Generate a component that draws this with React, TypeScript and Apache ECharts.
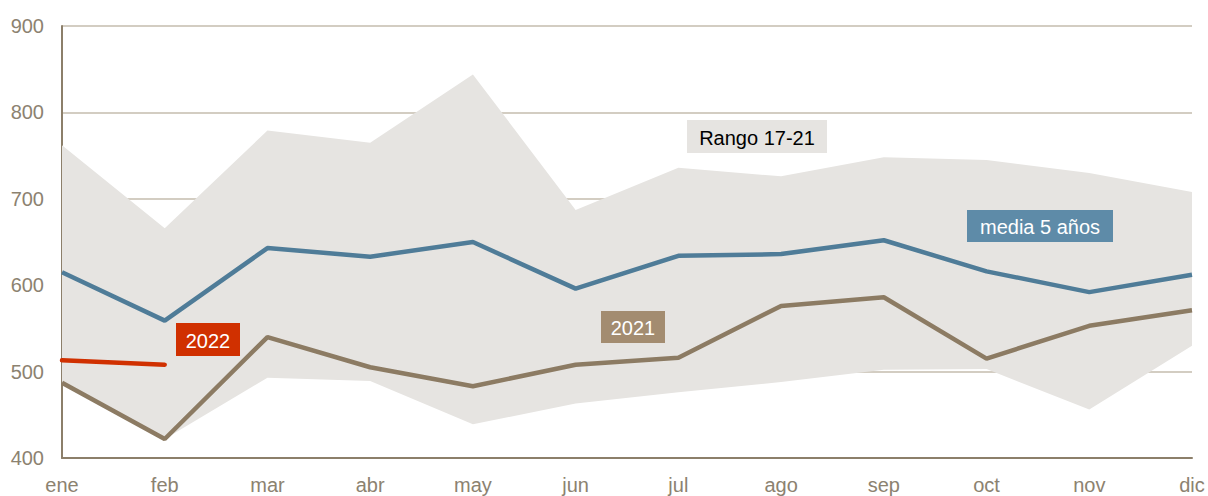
import React, { useEffect, useRef } from "react";
import * as echarts from "echarts";

const months = ["ene", "feb", "mar", "abr", "may", "jun", "jul", "ago", "sep", "oct", "nov", "dic"];
const rangeMax = [762, 666, 779, 765, 844, 687, 736, 726, 748, 745, 730, 708];
const rangeMin = [487, 422, 493, 489, 439, 463, 476, 488, 502, 503, 456, 530];
const media5 = [615, 559, 643, 633, 650, 596, 634, 636, 652, 616, 592, 612];
const y2021 = [487, 422, 540, 505, 483, 508, 516, 576, 586, 515, 553, 571];
const y2022 = [513, 508];
const yTicks = [400, 500, 600, 700, 800, 900];

const FONT = "'Liberation Sans', Arial, sans-serif";
const AXIS_TEXT = "#8c8270";

function labelBox(x: number, y: number, w: number, h: number, text: string, fill: string, color: string) {
  return [
    { type: "rect", x, y, z: 100, shape: { x: 0, y: 0, width: w, height: h }, style: { fill } },
    {
      type: "text",
      x: x + w / 2,
      y: y + h / 2 + 1,
      z: 101,
      style: {
        text,
        fill: color,
        fontSize: 20,
        fontFamily: FONT,
        textAlign: "center",
        textVerticalAlign: "middle",
      },
    },
  ];
}

export default function App() {
  const ref = useRef<HTMLDivElement>(null);
  useEffect(() => {
    document.body.style.margin = "0";
    const chart = echarts.init(ref.current!, null, { renderer: "svg" });
    const diff = rangeMax.map((v, i) => v - rangeMin[i]);
    chart.setOption({
      animation: false,
      grid: { left: 62, right: 16, top: 26, bottom: 38 },
      xAxis: {
        type: "category",
        data: months,
        boundaryGap: false,
        axisLine: { lineStyle: { color: "#8c7f6a", width: 2 } },
        axisTick: { show: false },
        axisLabel: { color: AXIS_TEXT, fontSize: 20, fontFamily: FONT, margin: 17, interval: 0 },
        splitLine: { show: false },
      },
      yAxis: {
        type: "value",
        min: yTicks[0],
        max: yTicks[yTicks.length - 1],
        interval: 100,
        axisLine: { show: true, lineStyle: { color: "#8c7f6a", width: 2 } },
        axisTick: { show: false },
        axisLabel: { color: AXIS_TEXT, fontSize: 20, fontFamily: FONT, margin: 18 },
        splitLine: { lineStyle: { color: "#c4bcae", width: 1.5 } },
      },
      series: [
        {
          type: "line",
          data: rangeMin,
          stack: "band",
          symbol: "none",
          lineStyle: { opacity: 0 },
          silent: true,
        },
        {
          type: "line",
          data: diff,
          stack: "band",
          symbol: "none",
          lineStyle: { opacity: 0 },
          areaStyle: { color: "#e6e4e1", opacity: 1 },
          silent: true,
        },
        {
          type: "line",
          data: media5,
          symbol: "none",
          lineStyle: { color: "#4f7c98", width: 4.5 },
          z: 5,
        },
        {
          type: "line",
          data: y2021,
          symbol: "none",
          lineStyle: { color: "#8c7b63", width: 4.5 },
          z: 5,
        },
        {
          type: "line",
          data: y2022,
          symbol: "none",
          lineStyle: { color: "#d03000", width: 4.5, cap: "round" },
          z: 6,
        },
      ],
      graphic: [
        ...labelBox(176, 323, 64, 33, "2022", "#d03000", "#ffffff"),
        ...labelBox(601, 311, 64, 32, "2021", "#a38c70", "#ffffff"),
        ...labelBox(687, 120, 140, 33, "Rango 17-21", "#e6e4e1", "#000000"),
        ...labelBox(967, 210, 146, 32, "media 5 años", "#5e8ba8", "#ffffff"),
      ],
    });
    return () => chart.dispose();
  }, []);
  return <div ref={ref} style={{ width: 1208, height: 496 }} />;
}
